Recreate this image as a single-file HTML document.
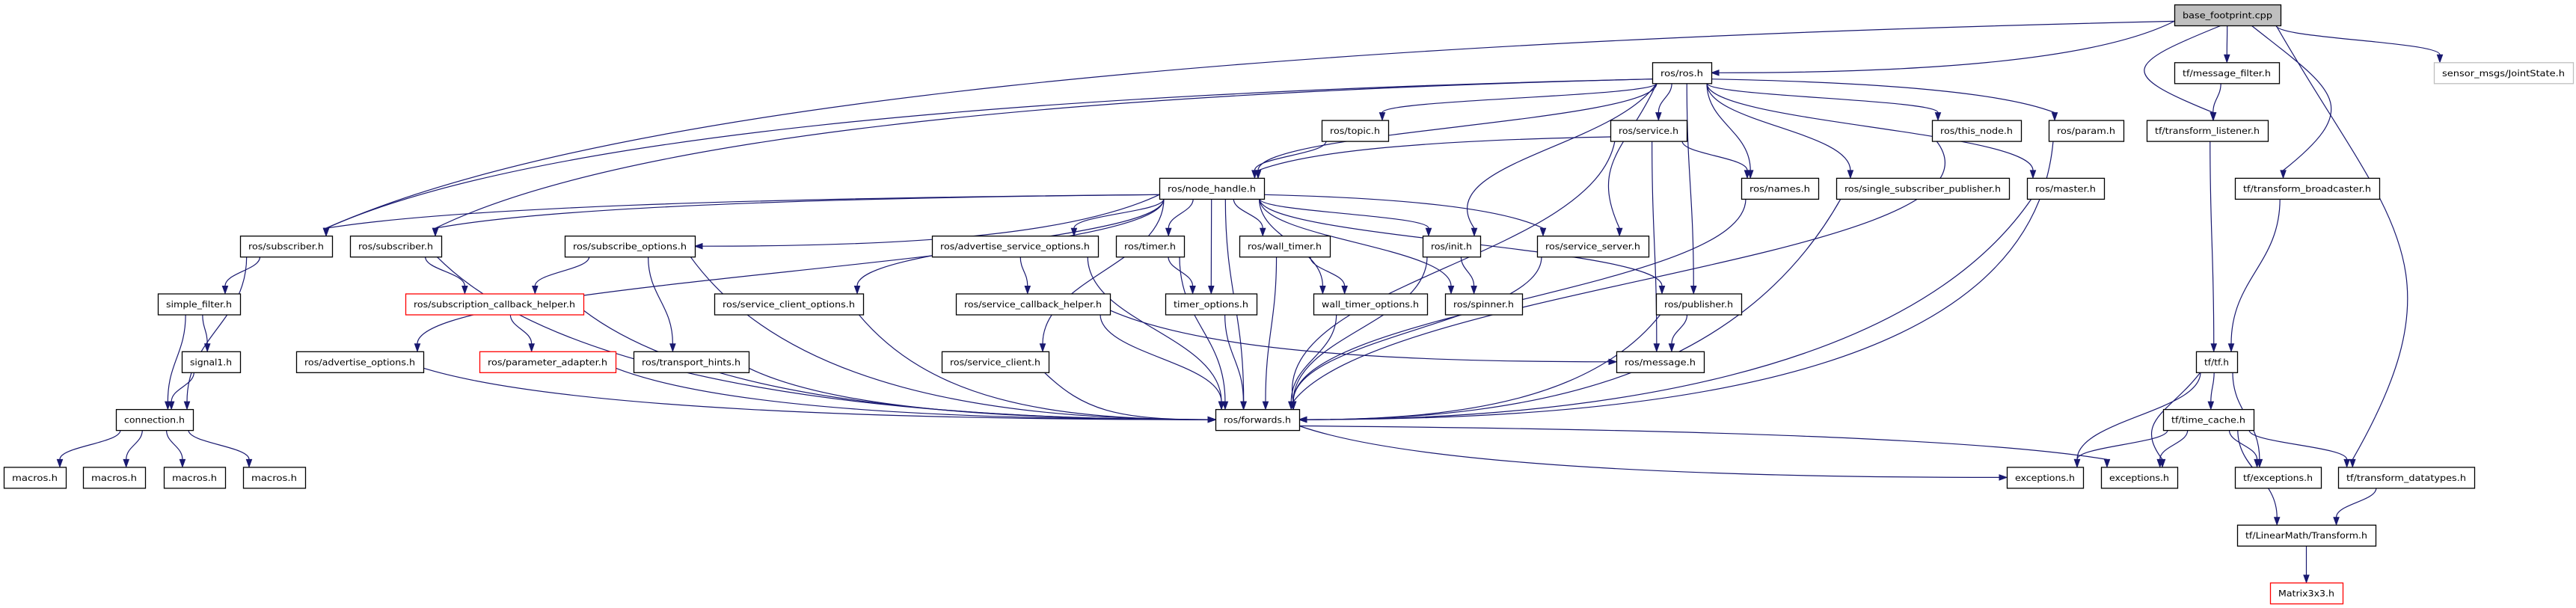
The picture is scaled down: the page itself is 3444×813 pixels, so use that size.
<!DOCTYPE html>
<html><head><meta charset="utf-8"><style>
html,body{margin:0;padding:0;background:#fff;}
svg{display:block;}
text{font-family:"DejaVu Sans","Liberation Sans",sans-serif;font-size:11.5px;fill:#000;}
</style></head><body>
<svg id="g" width="3444" height="813" xmlns="http://www.w3.org/2000/svg"></svg>
<script>
var R=function(k){return 6+77.3*k;};
var N={
bf:[2907,3049,0,"base_footprint.cpp","g"],
ros:[2209,2288,1,"ros/ros.h"],
mf:[2907,3047,1,"tf/message_filter.h"],
js:[3254,3440,1,"sensor_msgs/JointState.h","l"],
topic:[1767,1856,2,"ros/topic.h"],
svc:[2153,2255,2,"ros/service.h"],
thn:[2583,2702,2,"ros/this_node.h"],
prm:[2739,2839,2,"ros/param.h"],
tl:[2870,3032,2,"tf/transform_listener.h"],
nh:[1550,1690,3,"ros/node_handle.h"],
names:[2328,2431,3,"ros/names.h"],
ssp:[2455,2686,3,"ros/single_subscriber_publisher.h"],
master:[2710,2813,3,"ros/master.h"],
tb:[2988,3181,3,"tf/transform_broadcaster.h"],
subA:[321,444,4,"ros/subscriber.h"],
subB:[468,590,4,"ros/subscriber.h"],
so:[755,929,4,"ros/subscribe_options.h"],
aso:[1246,1468,4,"ros/advertise_service_options.h"],
timer:[1492,1583,4,"ros/timer.h"],
wt:[1657,1778,4,"ros/wall_timer.h"],
init:[1902,1979,4,"ros/init.h"],
ss:[2055,2204,4,"ros/service_server.h"],
sf:[211,321,5,"simple_filter.h"],
sch:[542,780,5,"ros/subscription_callback_helper.h","r"],
sco:[955,1154,5,"ros/service_client_options.h"],
scbh:[1278,1484,5,"ros/service_callback_helper.h"],
to:[1558,1680,5,"timer_options.h"],
wto:[1756,1908,5,"wall_timer_options.h"],
spin:[1932,2035,5,"ros/spinner.h"],
pub:[2214,2328,5,"ros/publisher.h"],
sig:[243,321,6,"signal1.h"],
ao:[396,566,6,"ros/advertise_options.h"],
pa:[641,823,6,"ros/parameter_adapter.h","r"],
th:[847,1001,6,"ros/transport_hints.h"],
sc:[1259,1402,6,"ros/service_client.h"],
msg:[2161,2278,6,"ros/message.h"],
tf:[2936,2991,6,"tf/tf.h"],
conn:[155,258,7,"connection.h"],
fw:[1625,1737,7,"ros/forwards.h"],
tc:[2892,3013,7,"tf/time_cache.h"],
m1:[5,88,8,"macros.h"],m2:[111,194,8,"macros.h"],m3:[219,301,8,"macros.h"],m4:[325,408,8,"macros.h"],
ex1:[2683,2785,8,"exceptions.h"],
ex2:[2809,2911,8,"exceptions.h"],
tfe:[2988,3103,8,"tf/exceptions.h"],
td:[3126,3308,8,"tf/transform_datatypes.h"],
tr:[2991,3176,9,"tf/LinearMath/Transform.h"],
mx:[3035,3132,10,"Matrix3x3.h","r"]
};
var E="bf>ros bf>subA bf>mf bf>tl bf>tb bf>td bf>js ros>subA ros>subB ros>topic ros>nh ros>svc ros>init ros>ss ros>pub ros>names ros>ssp ros>thn ros>prm ros>master topic>nh svc>nh svc>names svc>msg svc>fw nh>subA nh>subB nh>so nh>ao nh>aso nh>sco nh>sc nh>timer nh>to nh>wt nh>wto nh>init nh>spin nh>ss nh>pub nh>fw subA>sf subA>conn subB>sch subB>fw so>sch so>th so>fw sf>sig sf>conn sig>conn conn>m1 conn>m2 conn>m3 conn>m4 sch>pa sch>fw ao>fw pa>fw th>fw sco>fw aso>scbh aso>fw scbh>msg scbh>fw sc>fw timer>to timer>fw to>fw wt>wto wt>fw wto>fw init>spin init>fw ss>fw pub>msg pub>fw names>fw ssp>fw master>fw thn>fw prm>fw fw>ex1 fw>ex2 mf>tl tl>tf tb>tf tf>ex1 tf>ex2 tf>tc tf>tfe tc>ex1 tc>ex2 tc>tfe tc>td tc>tr td>tr tr>mx".split(" ");
var SIDEE={"fw>ex1":1,"bf>ros":1,"nh>so":1,"scbh>msg":1};
var BEND={"bf>tl":-130,"bf>tb":110,"bf>td":150,"thn>fw":120,"prm>fw":140,"svc>fw":-30,"ros>init":-60,"ros>ss":-40,"tf>ex2":-40};
var H=28,C="#191970",s="";
function cl(v,a,b){return Math.max(a,Math.min(b,v));}
E.forEach(function(e){
 var p=e.split(">"),a=N[p[0]],b=N[p[1]];
 var ac=(a[0]+a[1])/2,bc=(b[0]+b[1])/2,ay=R(a[2]),by=R(b[2]);
 var x0,y0,x1,y1,tx,ty,c1x,c1y,c2x,c2y;
 var dx=bc-ac,dyr=by-ay;
 var side=(SIDEE[e]||p[1]=="fw") && (Math.abs(dx)>2.5*dyr) && dyr>0;
 x0=ac+cl(dx*0.3,-(a[1]-a[0])/2+6,(a[1]-a[0])/2-6); y0=ay+H;
 var far=Math.abs(dx)>6*dyr;
 if(far){ y0=ay+H*0.8; x0=dx>0?a[1]:a[0]; }
 if(side){
   tx=dx>0?b[0]:b[1]; ty=by+H/2; x1=tx+(dx>0?-10:10); y1=ty;
   c1x=x0+dx*0.15;c1y=y0+(y1-y0)*0.8;c2x=x1-dx*0.35;c2y=y1;
 } else {
   tx=bc+cl(-dx*0.3,-(b[1]-b[0])/2+8,(b[1]-b[0])/2-8); ty=by; x1=tx; y1=ty-10;
   var d=y1-y0;
   if(far){c1x=x0+(x1-x0)*0.5;c1y=y0+d*0.1;c2x=x1+(x0-x1)*0.15;c2y=y1-d*0.6;}
   else{c1x=x0;c1y=y0+d*0.45;c2x=x1;c2y=y1-d*0.45;}
 }
 var bd=BEND[e]||0; c1x+=bd; c2x+=bd;
 s+='<path d="M'+x0+','+y0+' C'+c1x+','+c1y+' '+c2x+','+c2y+' '+x1+','+y1+'" fill="none" stroke="'+C+'" stroke-width="1.2"/>';
 var ux=tx-x1,uy=ty-y1,l=Math.hypot(ux,uy)||1;ux/=l;uy/=l;
 var bx=tx-ux*10,by2=ty-uy*10,px=-uy*3.6,py=ux*3.6;
 s+='<polygon points="'+tx+','+ty+' '+(bx+px)+','+(by2+py)+' '+(bx-px)+','+(by2-py)+'" fill="'+C+'" stroke="'+C+'"/>';
});
for(var k in N){var n=N[k],y=R(n[2]),w=n[1]-n[0];
 var st=n[4]=="r"?"#ff0000":(n[4]=="l"?"#bfbfbf":"#000");
 var fl=n[4]=="g"?"#bfbfbf":"#fff";
 s+='<rect x="'+(n[0]+0.5)+'" y="'+(y+0.5)+'" width="'+w+'" height="'+H+'" fill="'+fl+'" stroke="'+st+'" stroke-width="1.3"/>';
 s+='<text x="'+(n[0]+w/2)+'" y="'+(y+18.5)+'" text-anchor="middle" textLength="'+(w-22)+'" lengthAdjust="spacingAndGlyphs">'+n[3]+'</text>';
}
document.getElementById("g").innerHTML=s;
</script>
</body></html>
